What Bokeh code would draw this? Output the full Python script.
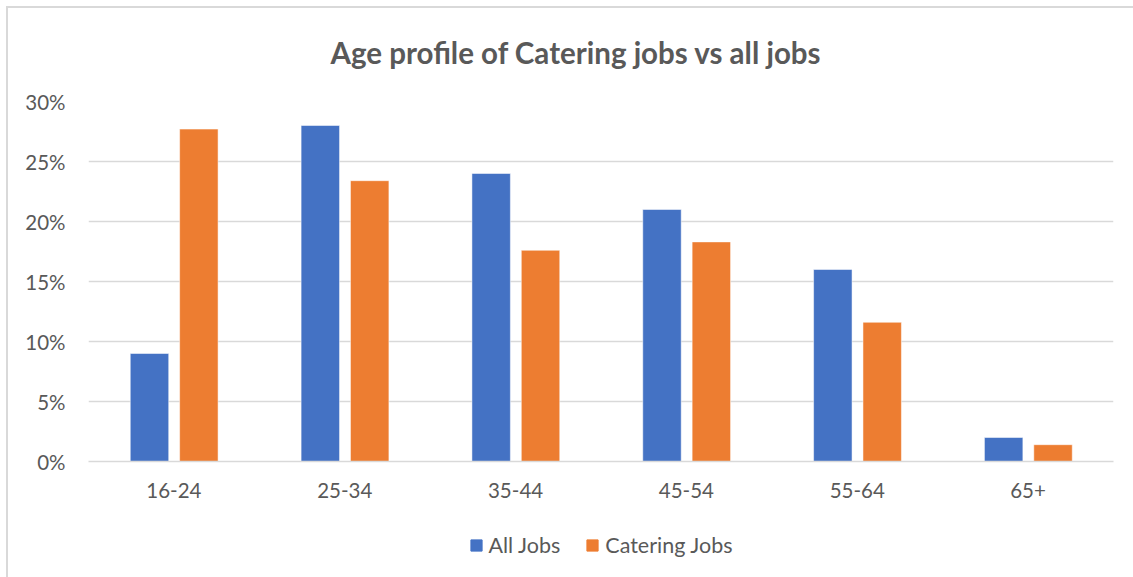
from bokeh.plotting import figure
from bokeh.layouts import column
from bokeh.models import (FactorRange, Range1d, Legend, LegendItem, FixedTicker,
                          PrintfTickFormatter, ColumnDataSource, InlineStyleSheet)
from bokeh.transform import dodge
from bokeh.embed import file_html
from bokeh.resources import INLINE

ages = ["16-24", "25-34", "35-44", "45-54", "55-64", "65+"]
all_jobs = [9.0, 28.0, 24.0, 21.0, 16.0, 2.0]
catering_jobs = [27.7, 23.4, 17.6, 18.3, 11.6, 1.4]
y_ticks = [0, 5, 10, 15, 20, 25, 30]
series_names = ["All Jobs", "Catering Jobs"]
series_colors = ["#4472C4", "#ED7D31"]

FONT = "Lato"
GREY = "#595959"

src = ColumnDataSource(dict(age=ages, all=all_jobs, cat=catering_jobs))

p = figure(x_range=FactorRange(*ages), y_range=Range1d(0, 30),
           frame_width=1025, frame_height=360,
           output_backend="svg", toolbar_location=None,
           min_border_left=88, min_border_right=20, min_border_top=99,
           min_border_bottom=50)

p.vbar(x=dodge("age", -0.143, range=p.x_range), top="all", width=0.225,
       source=src, fill_color=series_colors[0], line_color="#FFFFFF", line_width=0.5)
p.vbar(x=dodge("age", 0.146, range=p.x_range), top="cat", width=0.225,
       source=src, fill_color=series_colors[1], line_color="#FFFFFF", line_width=0.5)

p.title.text = "Age profile of Catering jobs vs all jobs"
p.title.align = "left"
p.title.offset = 242
p.title.standoff = 64
p.title.text_font = FONT
p.title.text_font_size = "29.5px"
p.title.text_font_style = "bold"
p.title.text_color = GREY

p.outline_line_color = None
p.xgrid.grid_line_color = None
p.ygrid.grid_line_color = "#d9d9d9"
p.ygrid.grid_line_width = 1.5

p.yaxis.ticker = FixedTicker(ticks=y_ticks)
p.yaxis.formatter = PrintfTickFormatter(format="%d%%")
p.yaxis.axis_line_color = None
p.yaxis.major_tick_line_color = None
p.yaxis.minor_tick_line_color = None
p.yaxis.major_label_text_font = FONT
p.yaxis.major_label_text_font_size = "20.5px"
p.yaxis.major_label_text_color = GREY
p.yaxis.major_label_standoff = 17

p.xaxis.axis_line_color = "#d9d9d9"
p.xaxis.axis_line_width = 1.5
p.xaxis.major_tick_line_color = None
p.xaxis.minor_tick_line_color = None
p.xaxis.major_label_text_font = FONT
p.xaxis.major_label_text_font_size = "20.5px"
p.xaxis.major_label_text_color = GREY
p.xaxis.major_label_standoff = 15

# legend strip below the chart (its bars lie outside its visible range)
p2 = figure(width=1133, height=68, x_range=FactorRange(*ages),
            y_range=Range1d(100, 101),
            x_axis_type=None, y_axis_type=None, output_backend="svg",
            toolbar_location=None, min_border=0, min_border_left=0,
            min_border_right=18)
p2.outline_line_color = None
p2.xgrid.grid_line_color = None
p2.ygrid.grid_line_color = None
items = []
for name, col_name, color in zip(series_names, ["all", "cat"], series_colors):
    r = p2.vbar(x="age", top=col_name, width=0.2, source=src,
                fill_color=color, line_color=color)
    items.append(LegendItem(label=name, renderers=[r]))

legend = Legend(items=items, orientation="horizontal", location="center",
                label_text_font=FONT, label_text_font_size="21.5px",
                label_text_color=GREY, glyph_width=14, glyph_height=14,
                label_standoff=6, spacing=25, margin=0, padding=8,
                border_line_color=None, background_fill_alpha=0)
p2.add_layout(legend, "center")

layout = column(p, p2, spacing=0)
layout.stylesheets = [InlineStyleSheet(css=(
    ":host::after { content: ''; position: absolute; left: 6px; top: 6px; "
    "right: 0; bottom: 0; border-left: 2px solid #d9d9d9; "
    "border-top: 2px solid #d9d9d9; pointer-events: none; z-index: 10; }"))]

open("out.html", "w").write(file_html(layout, INLINE))
